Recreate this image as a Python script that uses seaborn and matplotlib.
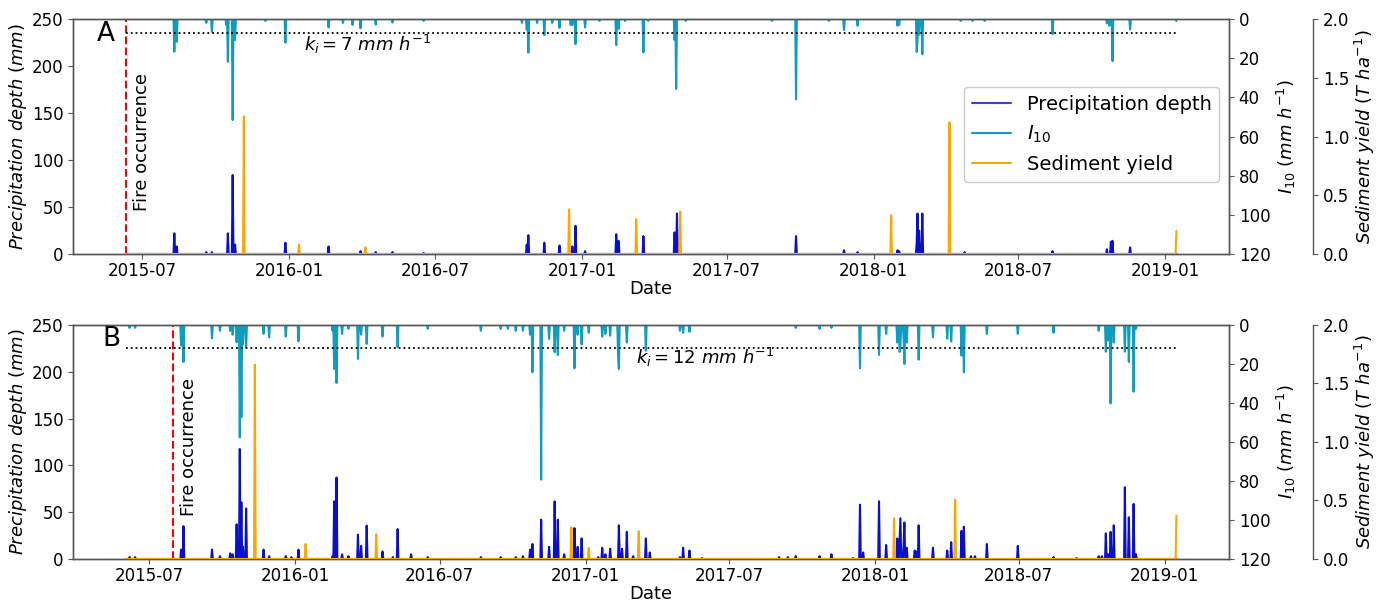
import numpy as np
import pandas as pd
import matplotlib
matplotlib.use("Agg")
import matplotlib.pyplot as plt
import matplotlib.dates as mdates
import seaborn as sns
from matplotlib.lines import Line2D

# ---------------- data: panel A ----------------
range_A = ("2015-06-10", "2019-01-15")
fire_A = "2015-06-10"
ki_A = 7

precip_dates_A = ["2015-08-10", "2015-08-13", "2015-09-19", "2015-09-26", "2015-10-16", "2015-10-22",
                  "2015-10-25", "2015-12-27", "2016-02-19", "2016-03-30", "2016-04-18", "2016-05-09",
                  "2016-06-17", "2016-10-24", "2016-10-26", "2016-11-15", "2016-12-04", "2016-12-20",
                  "2016-12-24", "2017-01-05", "2017-02-13", "2017-02-16", "2017-03-19", "2017-04-27",
                  "2017-04-30", "2017-09-26", "2017-11-25", "2017-12-12", "2018-01-31", "2018-02-02",
                  "2018-02-24", "2018-02-25", "2018-02-27", "2018-03-03", "2018-04-25", "2018-08-13",
                  "2018-10-20", "2018-10-25", "2018-10-27", "2018-11-18"]
precip_vals_A = [22, 8, 2, 2, 22, 84,
                 10, 12, 8, 3, 2, 2,
                 1, 10, 20, 12, 9, 8,
                 30, 3, 21, 14, 19, 23,
                 43, 19, 4, 2, 4, 3,
                 12, 43, 25, 43, 2, 3,
                 5, 13, 14, 7]

i10_dates_A = ["2015-08-10", "2015-08-13", "2015-09-19", "2015-09-26", "2015-10-14", "2015-10-16",
               "2015-10-22", "2015-10-25", "2015-12-02", "2015-12-27", "2016-02-19", "2016-03-08",
               "2016-03-20", "2016-03-30", "2016-04-18", "2016-05-09", "2016-06-17", "2016-10-18",
               "2016-10-24", "2016-10-26", "2016-11-06", "2016-11-15", "2016-11-25", "2016-12-04",
               "2016-12-18", "2016-12-20", "2016-12-24", "2017-01-05", "2017-01-23", "2017-02-13",
               "2017-02-16", "2017-02-24", "2017-03-19", "2017-03-25", "2017-04-27", "2017-04-29",
               "2017-05-11", "2017-08-27", "2017-09-26", "2017-11-06", "2017-11-25", "2017-12-12",
               "2018-01-31", "2018-02-02", "2018-02-24", "2018-02-25", "2018-02-27", "2018-03-03",
               "2018-04-20", "2018-05-05", "2018-05-20", "2018-08-13", "2018-10-20", "2018-10-23",
               "2018-10-27", "2018-11-18", "2019-01-15"]
i10_vals_A = [16.7, 11.6, 2, 6.5, 3, 21.8,
              51.6, 10.7, 1, 12.1, 4.3, 2,
              3, 4.7, 2.8, 1.8, 1, 2,
              5.4, 17.2, 2, 8.2, 2, 4.5,
              3, 3, 12.8, 4.3, 1, 13.3,
              5, 1, 17, 1, 10.7, 35.7,
              1, 1, 41, 1, 5.6, 3.4,
              3.4, 3, 16.8, 11, 8, 18,
              1, 1, 1, 7.7, 2.2, 3.5,
              21.5, 5.3, 1]

sed_dates_A = ["2015-11-05", "2016-01-13", "2016-04-05", "2016-12-16", "2017-03-10", "2017-05-04",
               "2018-01-23", "2018-04-06", "2019-01-15"]
sed_vals_A = [1.17, 0.08, 0.057, 0.38, 0.295, 0.36, 0.33, 1.12, 0.196]

# ---------------- data: panel B ----------------
range_B = ("2015-06-01", "2019-01-16")
fire_B = "2015-07-31"
ki_B = 12

precip_dates_B = ["2015-06-06", "2015-06-13", "2015-08-10", "2015-08-13", "2015-09-18", "2015-09-28",
                  "2015-10-11", "2015-10-14", "2015-10-19", "2015-10-23", "2015-10-25", "2015-10-27",
                  "2015-10-31", "2015-11-22", "2015-11-29", "2015-12-20", "2015-12-27", "2016-01-05",
                  "2016-02-17", "2016-02-19", "2016-02-22", "2016-02-29", "2016-03-08", "2016-03-20",
                  "2016-03-24", "2016-03-31", "2016-04-20", "2016-05-03", "2016-05-09", "2016-05-26",
                  "2016-06-16", "2016-08-22", "2016-09-16", "2016-10-05", "2016-10-14", "2016-10-23",
                  "2016-10-26", "2016-11-06", "2016-11-16", "2016-11-23", "2016-11-27", "2016-12-05",
                  "2016-12-18", "2016-12-22", "2016-12-27", "2017-01-17", "2017-01-22", "2017-01-26",
                  "2017-02-01", "2017-02-12", "2017-02-16", "2017-02-22", "2017-03-02", "2017-03-18",
                  "2017-03-23", "2017-04-30", "2017-05-04", "2017-05-12", "2017-05-28", "2017-09-02",
                  "2017-09-13", "2017-09-23", "2017-10-23", "2017-11-07", "2017-12-04", "2017-12-13",
                  "2017-12-17", "2018-01-06", "2018-01-15", "2018-01-29", "2018-02-01", "2018-02-02",
                  "2018-02-06", "2018-02-07", "2018-02-10", "2018-02-20", "2018-02-22", "2018-02-25",
                  "2018-03-15", "2018-04-02", "2018-04-07", "2018-04-20", "2018-04-23", "2018-05-02",
                  "2018-05-07", "2018-05-22", "2018-06-30", "2018-08-14", "2018-09-12", "2018-10-10",
                  "2018-10-14", "2018-10-19", "2018-10-22", "2018-10-25", "2018-10-29", "2018-11-12",
                  "2018-11-17", "2018-11-23", "2018-11-26"]
precip_vals_B = [2, 2, 10, 35, 10, 3,
                 6, 5, 37, 117.5, 60.5, 13,
                 54, 10, 3, 3, 2, 10,
                 3, 61.6, 87, 5, 3, 26,
                 14, 35.6, 8, 2, 32, 5,
                 2, 2, 2, 2, 3, 10,
                 16, 42, 13, 61.6, 42, 5,
                 33, 13, 22, 2, 12, 5,
                 11, 36, 11, 29, 3, 22,
                 7, 2, 12, 9, 1, 2,
                 2, 3, 3, 5, 1, 58,
                 7, 61.6, 15, 22, 22, 43.5,
                 15, 39, 12, 9, 8, 36,
                 12, 9, 18, 30, 34.5, 3,
                 3, 16, 14, 2, 1, 3,
                 3, 27.4, 5, 29, 36, 76.6,
                 44.6, 58.8, 5]

i10_dates_B = ["2015-06-06", "2015-06-13", "2015-08-10", "2015-08-13", "2015-09-18", "2015-09-28",
               "2015-10-11", "2015-10-14", "2015-10-19", "2015-10-23", "2015-10-25", "2015-10-27",
               "2015-10-31", "2015-11-22", "2015-11-29", "2015-12-20", "2016-01-05", "2016-02-17",
               "2016-02-19", "2016-02-22", "2016-02-29", "2016-03-08", "2016-03-20", "2016-03-24",
               "2016-03-31", "2016-04-20", "2016-05-09", "2016-06-16", "2016-08-22", "2016-09-16",
               "2016-09-25", "2016-10-05", "2016-10-14", "2016-10-23", "2016-10-26", "2016-11-06",
               "2016-11-16", "2016-11-23", "2016-11-27", "2016-12-05", "2016-12-18", "2016-12-22",
               "2016-12-27", "2017-01-05", "2017-01-22", "2017-01-26", "2017-02-01", "2017-02-11",
               "2017-02-12", "2017-02-22", "2017-03-18", "2017-04-30", "2017-05-04", "2017-05-12",
               "2017-09-23", "2017-10-23", "2017-11-07", "2017-12-13", "2018-01-06", "2018-01-15",
               "2018-01-29", "2018-02-01", "2018-02-02", "2018-02-06", "2018-02-07", "2018-02-10",
               "2018-02-25", "2018-03-15", "2018-04-02", "2018-04-07", "2018-04-20", "2018-04-23",
               "2018-05-22", "2018-06-30", "2018-08-14", "2018-10-10", "2018-10-19", "2018-10-22",
               "2018-10-25", "2018-10-29", "2018-11-12", "2018-11-17", "2018-11-23", "2018-11-26"]
i10_vals_B = [1.5, 1.5, 10.6, 19, 6.8, 3,
              3, 5, 8.9, 57.6, 47.3, 10,
              11.6, 4.6, 6.3, 5.9, 8.4, 3,
              22.6, 29.7, 4.6, 2, 17.4, 5,
              9.7, 5.9, 11.5, 2, 3, 2,
              2, 3, 3, 5, 24.3, 79.3,
              7.2, 14, 15.4, 3, 22.2, 5,
              10, 4, 6, 4.6, 5.5, 15.7,
              22.6, 9, 13.2, 3, 4, 3.5,
              1.5, 2, 1.5, 22.2, 15.4, 4.6,
              9, 13.8, 11, 7, 20, 9,
              17.8, 6.3, 7, 8.5, 15.7, 24.3,
              4.6, 4.6, 4, 3, 13.7, 8,
              40.2, 9, 13.7, 19, 34.2, 2]

sed_dates_B = ["2015-11-11", "2016-01-14", "2016-04-12", "2016-12-14", "2017-01-05", "2017-03-09",
               "2018-01-25", "2018-04-12", "2019-01-16"]
sed_vals_B = [1.66, 0.128, 0.21, 0.27, 0.094, 0.237, 0.348, 0.507, 0.37]

ticks_precip = [0, 50, 100, 150, 200, 250]
ticks_i10 = [0, 20, 40, 60, 80, 100, 120]
ticks_sed = [0.0, 0.5, 1.0, 1.5, 2.0]

C_PRECIP = "#0a10c8"
C_I10 = "#0f9cbf"
C_SED = "#ffa500"


def daily(rng, dates, vals, name):
    idx = pd.date_range(rng[0], rng[1], freq="D")
    s = pd.Series(0.0, index=idx)
    s.loc[pd.to_datetime(dates)] = np.asarray(vals, dtype=float)
    return pd.DataFrame({"Date": idx, name: s.values})


sns.set_style("ticks")
plt.rcParams.update({
    "font.family": ["DejaVu Sans"],
    "font.size": 12,
    "text.color": "black",
    "axes.labelcolor": "black",
    "axes.edgecolor": "#555555",
    "xtick.color": "#555555",
    "ytick.color": "#555555",
    "xtick.labelcolor": "black",
    "ytick.labelcolor": "black",
    "xtick.major.pad": 2.5,
    "axes.linewidth": 1.0,
    "mathtext.fontset": "dejavusans",
})

fig = plt.figure(figsize=(13.86, 6.04), dpi=100)

panels = [
    dict(rng=range_A, fire=fire_A, ki=ki_A, pd_=precip_dates_A, pv=precip_vals_A,
         idt=i10_dates_A, iv=i10_vals_A, sd=sed_dates_A, sv=sed_vals_A, letter="A",
         pos=[0.0527, 0.5795, 0.834, 0.389], kipos=(0.255, 0.89), letpos=(0.028, 0.935),
         legend=True),
    dict(rng=range_B, fire=fire_B, ki=ki_B, pd_=precip_dates_B, pv=precip_vals_B,
         idt=i10_dates_B, iv=i10_vals_B, sd=sed_dates_B, sv=sed_vals_B, letter="B",
         pos=[0.0527, 0.0745, 0.834, 0.3875], kipos=(0.547, 0.862), letpos=(0.033, 0.94),
         legend=False),
]

for p in panels:
    ax1 = fig.add_axes(p["pos"])
    ax2 = ax1.twinx()
    ax3 = ax1.twinx()
    ax3.spines["right"].set_position(("outward", 60.5))
    for sp in ["top", "bottom", "left"]:
        ax3.spines[sp].set_visible(False)

    dfp = daily(p["rng"], p["pd_"], p["pv"], "precip")
    dfi = daily(p["rng"], p["idt"], p["iv"], "i10")
    dfs = daily(p["rng"], p["sd"], p["sv"], "sed")

    sns.lineplot(data=dfp, x="Date", y="precip", ax=ax1, color=C_PRECIP, lw=1.5, legend=False)
    sns.lineplot(data=dfi, x="Date", y="i10", ax=ax2, color=C_I10, lw=1.5, legend=False)
    sns.lineplot(data=dfs, x="Date", y="sed", ax=ax3, color=C_SED, lw=1.5, legend=False)

    ax1.set_ylim(0, 250)
    ax1.set_yticks(ticks_precip)
    ax2.set_ylim(120, 0)
    ax2.set_yticks(ticks_i10)
    ax3.set_ylim(0, 2.0)
    ax3.set_yticks(ticks_sed)
    ax3.set_yticklabels([f"{t:.1f}" for t in ticks_sed])

    ax1.set_ylabel(r"$Precipitation\ depth\ (mm)$", fontsize=13, labelpad=2)
    ax2.set_ylabel(r"$I_{10}\ (mm\ h^{-1})$", fontsize=13, labelpad=3)
    ax3.set_ylabel(r"$Sediment\ yield\ (T\ ha^{-1})$", fontsize=13, labelpad=3)
    ax1.set_xlabel("Date", fontsize=13, labelpad=0)
    ax2.set_xlabel("")
    ax3.set_xlabel("")

    ax1.xaxis.set_major_locator(mdates.MonthLocator(bymonth=[1, 7]))
    ax1.xaxis.set_major_formatter(mdates.DateFormatter("%Y-%m"))

    # threshold ki
    ax2.hlines(p["ki"], pd.Timestamp(p["rng"][0]), pd.Timestamp(p["rng"][1]),
               colors="black", linestyles=":", lw=1.3)
    ax2.text(p["kipos"][0], p["kipos"][1], r"$k_i = %d\ mm\ h^{-1}$" % p["ki"],
             transform=ax2.transAxes, ha="center", va="center", fontsize=13)

    # fire occurrence
    fd = pd.Timestamp(p["fire"])
    ax1.axvline(fd, color="red", ls="--", lw=1.5)
    ax1.annotate("Fire occurrence", xy=(fd, 46), xytext=(5, 0), textcoords="offset points",
                 rotation=90, ha="left", va="bottom", fontsize=13)

    ax1.text(p["letpos"][0], p["letpos"][1], p["letter"], transform=ax1.transAxes,
             ha="center", va="center", fontsize=19)

    if p["legend"]:
        handles = [Line2D([], [], color=C_PRECIP, lw=1.5, alpha=0.8),
                   Line2D([], [], color=C_I10, lw=1.5),
                   Line2D([], [], color=C_SED, lw=1.5)]
        ax3.legend(handles, ["Precipitation depth", r"$I_{10}$", "Sediment yield"],
                   loc="upper right", bbox_to_anchor=(1.0, 0.75), fontsize=14,
                   frameon=True, edgecolor="#cccccc", framealpha=1.0)

fig.savefig("out.png", dpi=100)
